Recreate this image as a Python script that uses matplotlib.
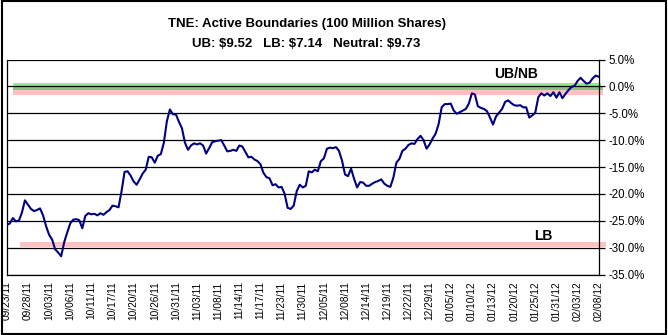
import matplotlib
matplotlib.use("Agg")
import matplotlib.pyplot as plt
from matplotlib.patches import Rectangle

plt.rcParams['font.family'] = ['Liberation Sans', 'DejaVu Sans']

title = "TNE: Active Boundaries (100 Million Shares)"
subtitle = "UB: $9.52   LB: $7.14   Neutral: $9.73"

tick_labels = ["09/23/11", "09/28/11", "10/03/11", "10/06/11", "10/11/11", "10/17/11",
               "10/20/11", "10/26/11", "10/31/11", "11/03/11", "11/08/11", "11/14/11",
               "11/17/11", "11/23/11", "11/30/11", "12/05/11", "12/08/11", "12/14/11",
               "12/19/11", "12/22/11", "12/29/11", "01/05/12", "01/10/12", "01/13/12",
               "01/20/12", "01/25/12", "01/31/12", "02/03/12", "02/08/12"]
label_every = 7

# percent distance from neutral, one value per observation
pct = [-25.8, -25.5, -24.5, -25.1, -25.0, -23.5, -21.2, -22.0, -22.8, -23.2,
       -23.0, -22.7, -24.0, -26.0, -27.6, -28.5, -30.3, -30.9, -31.6, -29.0,
       -27.2, -25.5, -24.8, -24.7, -24.9, -26.4, -24.1, -23.6, -23.8, -23.7,
       -24.0, -23.6, -23.9, -23.4, -23.0, -22.2, -22.3, -22.5, -19.5, -15.9,
       -15.8, -16.6, -17.7, -18.3, -17.3, -16.2, -15.5, -13.1, -13.2, -14.2,
       -12.9, -12.6, -10.5, -6.5, -4.3, -5.2, -5.2, -6.6, -7.8, -10.5,
       -11.8, -11.0, -10.6, -10.8, -10.6, -11.0, -12.5, -11.5, -10.4, -10.2,
       -10.1, -10.0, -11.0, -12.1, -12.0, -11.8, -12.0, -11.0, -11.2, -12.2,
       -13.2, -13.1, -13.6, -13.9, -14.5, -16.1, -16.9, -17.1, -18.4, -18.2,
       -18.8, -18.7, -20.0, -22.6, -22.8, -22.2, -19.5, -18.3, -18.8, -18.5,
       -15.8, -16.0, -15.5, -15.8, -13.9, -13.4, -11.6, -11.4, -11.5, -11.3,
       -12.0, -13.8, -16.4, -16.7, -15.3, -17.2, -18.8, -17.8, -17.9, -18.5,
       -18.5, -18.1, -17.8, -17.6, -17.3, -18.1, -18.5, -18.7, -17.0, -14.2,
       -13.5, -12.0, -11.6, -10.9, -10.6, -10.7, -9.8, -9.2, -10.0, -11.6,
       -10.8, -9.7, -8.8, -7.0, -3.9, -3.3, -3.3, -3.2, -4.5, -5.1,
       -4.8, -4.5, -4.2, -3.2, -1.3, -1.5, -3.7, -4.0, -4.2, -4.6,
       -5.8, -7.1, -5.6, -4.9, -4.2, -2.9, -2.6, -3.1, -3.5, -3.6,
       -3.5, -3.9, -3.9, -5.8, -5.4, -4.9, -2.0, -1.3, -1.7, -1.3,
       -1.8, -1.1, -2.1, -1.1, -2.2, -1.4, -0.7, -0.1, 0.1, 1.0,
       1.6, 1.0, 0.5, 0.7, 1.5, 2.0, 1.8]

# boundary bands (percent)
nb_band = (-0.7, 0.6)      # neutral band
ub_band = (-1.6, 0.0)      # upper boundary band
lb_band = (-29.9, -28.9)   # lower boundary band

y_ticks = [5, 0, -5, -10, -15, -20, -25, -30, -35]

fig = plt.figure(figsize=(6.68, 3.35), dpi=100)
ax = fig.add_axes([6.5 / 668, 1 - 274.5 / 335, (599 - 6.5) / 668, (274.5 - 59.5) / 335])

x = list(range(len(pct)))

# bands
light_green = "#8CEE8C"
overlap_green = "#88C088"
pink = "#FFC2C2"
ax.axhspan(ub_band[0], nb_band[0], xmin=0.011, xmax=1.006, color=pink, lw=0, zorder=1, clip_on=False)
ax.axhspan(nb_band[0], ub_band[1], xmin=0.011, xmax=1.006, color=overlap_green, lw=0, zorder=1, clip_on=False)
ax.axhspan(ub_band[1], nb_band[1], xmin=0.011, xmax=1.004, color=light_green, lw=0, zorder=1, clip_on=False)
ax.axhspan(lb_band[0], lb_band[1], xmin=0.023, xmax=1.012, color=pink, lw=0, zorder=1, clip_on=False)

for yt in y_ticks:
    ax.axhline(yt, color="black", lw=0.9, zorder=2)

ax.plot(x, pct, color="#000080", lw=1.5, zorder=3, solid_joinstyle="round")

ax.set_xlim(-0.1, len(pct) - 0.9)
ax.set_ylim(-35, 5)
ax.set_yticks(y_ticks)
ax.set_yticklabels([f"{v:.1f}%" for v in y_ticks], fontsize=8.3)
ax.yaxis.tick_right()
ax.tick_params(axis="y", direction="out", length=4, width=0.9, pad=2.5)

ax.set_xticks(range(0, len(pct), label_every))
ax.set_xticklabels(tick_labels, rotation=90, fontsize=7.3)
ax.tick_params(axis="x", length=0, pad=5)

for s in ax.spines.values():
    s.set_color("black")
    s.set_linewidth(0.9)
ax.spines["top"].set_visible(False)

ax.text(168.6, 2.3, "UB/NB", fontsize=10, fontweight="bold", ha="center", va="center")
ax.text(177.6, -27.8, "LB", fontsize=10, fontweight="bold", ha="center", va="center")

fig.text(0.459, 1 - 24 / 335, title, fontsize=9.5, fontweight="bold", ha="center", va="center")
fig.text(0.459, 1 - 44 / 335, subtitle, fontsize=9.5, fontweight="bold", ha="center", va="center")

fig.add_artist(Rectangle((1.5 / 668, 1.5 / 335), 664 / 668, 333 / 335, transform=fig.transFigure,
                         fill=False, edgecolor="black", lw=1.5))

fig.savefig("out.png", dpi=100)
